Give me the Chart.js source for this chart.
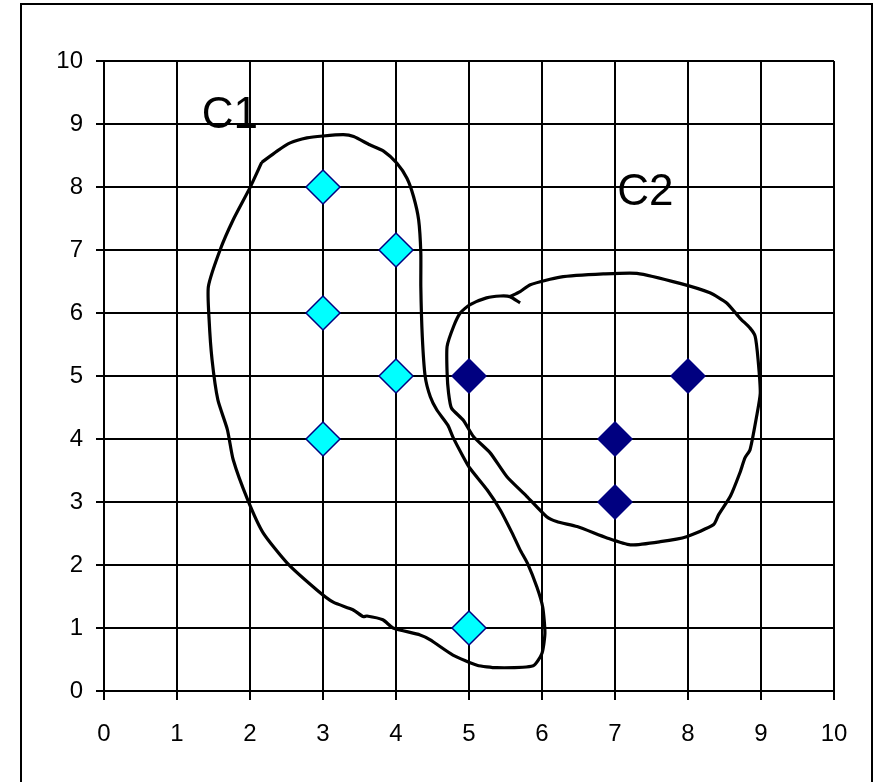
<!DOCTYPE html>
<html>
<head>
<meta charset="utf-8">
<script src="https://cdn.jsdelivr.net/npm/chart.js@4/dist/chart.umd.min.js"></script>
<style>
  html, body { margin: 0; padding: 0; background: #fff; }
  #wrap { position: relative; width: 882px; height: 782px; }
</style>
</head>
<body>
<div id="wrap"><canvas id="chart" width="882" height="782"></canvas></div>
<script>
// Cluster members
const c1Points = [[3, 8], [4, 7], [3, 6], [4, 5], [3, 4], [5, 1]];
const c2Points = [[5, 5], [7, 4], [7, 3], [8, 5]];

// Hand-drawn outline around C1 (closed loop)
const c1Outline = [
    [2.16, 8.39], [2.37, 8.57], [2.55, 8.70], [2.78, 8.78], [3.00, 8.81], [3.28, 8.83],
    [3.42, 8.80], [3.64, 8.67], [3.83, 8.57], [4.01, 8.38], [4.15, 8.14], [4.24, 7.85],
    [4.31, 7.48], [4.34, 6.95], [4.34, 6.42], [4.36, 5.63], [4.40, 4.99], [4.47, 4.67],
    [4.56, 4.46], [4.71, 4.22], [4.78, 4.03], [4.92, 3.72], [5.01, 3.54], [5.25, 3.19],
    [5.43, 2.87], [5.59, 2.51], [5.70, 2.24], [5.80, 2.03], [5.93, 1.65], [6.01, 1.33],
    [6.04, 0.92], [6.00, 0.60], [5.88, 0.40], [5.38, 0.37], [5.11, 0.41], [4.78, 0.57],
    [4.47, 0.81], [4.33, 0.89], [3.96, 1.00], [3.82, 1.13], [3.60, 1.19], [3.55, 1.18],
    [3.41, 1.29], [3.14, 1.41], [2.92, 1.60], [2.51, 2.03], [2.18, 2.51], [1.97, 3.03],
    [1.77, 3.67], [1.69, 4.15], [1.56, 4.62], [1.48, 5.26], [1.44, 5.89], [1.43, 6.42],
    [1.59, 7.00], [1.77, 7.48], [2.00, 7.99], [2.16, 8.39]
];

// Hand-drawn outline around C2 (ends in a small hook)
const c2Outline = [
    [5.70, 6.16], [5.56, 6.26], [5.43, 6.27], [5.24, 6.24], [5.01, 6.13], [4.88, 6.00],
    [4.79, 5.79], [4.70, 5.47], [4.70, 5.05], [4.72, 4.73], [4.76, 4.49], [4.92, 4.30],
    [5.06, 4.04], [5.29, 3.78], [5.52, 3.40], [5.79, 3.09], [6.06, 2.77], [6.20, 2.69],
    [6.48, 2.61], [6.89, 2.43], [7.21, 2.32], [7.62, 2.37], [7.98, 2.45], [8.35, 2.64],
    [8.42, 2.80], [8.58, 3.09], [8.71, 3.46], [8.78, 3.70], [8.85, 3.83], [8.94, 4.36],
    [8.99, 4.73], [8.96, 5.26], [8.92, 5.63], [8.85, 5.76], [8.71, 5.92], [8.53, 6.16],
    [8.30, 6.32], [7.89, 6.47], [7.30, 6.63], [6.84, 6.62], [6.25, 6.57], [5.84, 6.45],
    [5.70, 6.34], [5.56, 6.26]
];

// Text labels: [text, x, baseline y] in data units
const clusterLabels = [['C1', 1.34, 8.93], ['C2', 7.03, 7.72]];

const axisTicks = [0, 1, 2, 3, 4, 5, 6, 7, 8, 9, 10];

const toXY = arr => arr.map(p => ({ x: p[0], y: p[1] }));
const FONT = '"Liberation Sans", Arial, sans-serif';

const frameAndLabels = {
    id: 'frameAndLabels',
    beforeDraw(chart) {
        const ctx = chart.ctx;
        ctx.save();
        ctx.fillStyle = '#fff';
        ctx.fillRect(0, 0, chart.width, chart.height);
        ctx.strokeStyle = '#000';
        ctx.lineWidth = 2;
        ctx.strokeRect(21, 4, 851, 800);
        ctx.restore();
    },
    afterDatasetsDraw(chart) {
        const ctx = chart.ctx;
        const xs = chart.scales.x, ys = chart.scales.y;
        ctx.save();
        ctx.fillStyle = '#000';
        ctx.font = '44px ' + FONT;
        ctx.textBaseline = 'alphabetic';
        ctx.textAlign = 'left';
        clusterLabels.forEach(l => {
            ctx.fillText(l[0], xs.getPixelForValue(l[1]), ys.getPixelForValue(l[2]));
        });
        ctx.restore();
    }
};

const outlineStyle = {
    type: 'line',
    showLine: true,
    borderColor: '#000',
    borderWidth: 3.2,
    pointRadius: 0,
    fill: false,
    tension: 0.2
};

new Chart(document.getElementById('chart'), {
    type: 'scatter',
    data: {
        datasets: [
            Object.assign({ label: 'C1 outline', data: toXY(c1Outline) }, outlineStyle),
            Object.assign({ label: 'C2 outline', data: toXY(c2Outline) }, outlineStyle),
            {
                label: 'C1',
                data: toXY(c1Points),
                pointStyle: 'rectRot',
                pointRadius: 17,
                backgroundColor: '#00FFFF',
                borderColor: '#000080',
                borderWidth: 1.5
            },
            {
                label: 'C2',
                data: toXY(c2Points),
                pointStyle: 'rectRot',
                pointRadius: 18,
                backgroundColor: '#000080',
                borderColor: '#000080',
                borderWidth: 0
            }
        ]
    },
    options: {
        responsive: false,
        animation: false,
        events: [],
        layout: { padding: { left: 0, right: 48, top: 61, bottom: 0 } },
        plugins: {
            legend: { display: false },
            tooltip: { enabled: false }
        },
        scales: {
            x: {
                type: 'linear',
                min: 0,
                max: 10,
                afterBuildTicks: s => { s.ticks = axisTicks.map(v => ({ value: v })); },
                afterFit: s => { s.height = 91; },
                grid: { color: '#000', lineWidth: 2, tickLength: 9, drawOnChartArea: true },
                border: { color: '#000', width: 2 },
                ticks: { color: '#000', padding: 20, maxRotation: 0, font: { family: FONT, size: 24 } }
            },
            y: {
                type: 'linear',
                min: 0,
                max: 10,
                afterBuildTicks: s => { s.ticks = axisTicks.map(v => ({ value: v })); },
                afterFit: s => { s.width = 104; },
                grid: { color: '#000', lineWidth: 2, tickLength: 8 },
                border: { color: '#000', width: 2 },
                ticks: { color: '#000', padding: 13, font: { family: FONT, size: 24 } }
            }
        }
    },
    plugins: [frameAndLabels]
});
</script>
</body>
</html>
